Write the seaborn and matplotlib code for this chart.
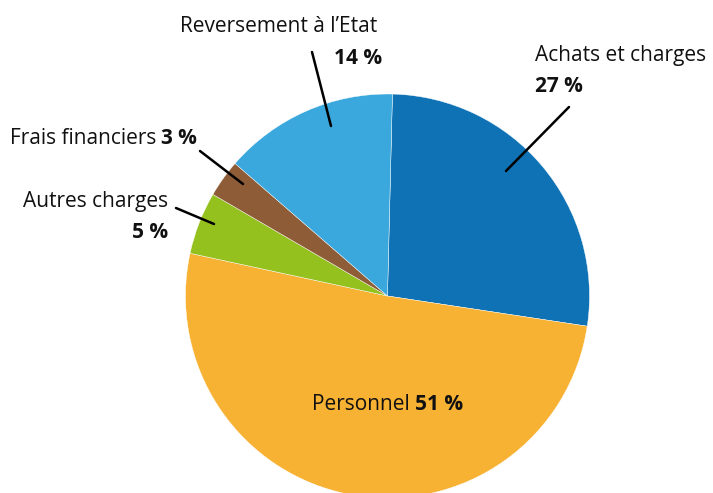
import matplotlib
matplotlib.use('Agg')
import matplotlib.pyplot as plt
import seaborn as sns

labels = ['Achats et charges', 'Personnel', 'Autres charges', 'Frais financiers', "Reversement à l’Etat"]
shares = [27, 51, 5, 3, 14]
colors = ['#0E72B5', '#F7B133', '#95C11F', '#8E5C36', '#3AA8DC']

sns.set_theme(style='white')
plt.rcParams['font.family'] = ['Open Sans', 'DejaVu Sans']

fig = plt.figure(figsize=(7.13, 4.93), dpi=100)
ax = fig.add_axes([0, 0, 1, 1])

# y axis is flipped, so counterclock=True draws clockwise on screen
ax.pie(shares, colors=colors, startangle=-88.6, counterclock=True,
       center=(387.5, 296), radius=202, frame=True,
       wedgeprops=dict(edgecolor='white', linewidth=0.3))
ax.set_xlim(0, 713)
ax.set_ylim(493, 0)
ax.axis('off')

fs = 15
reg = dict(fontsize=fs, color='#111111')
bold = dict(fontsize=fs, color='#111111', fontweight='bold')

fig.canvas.draw()
r = fig.canvas.get_renderer()


def inline(x, y, txt, num, gap=5):
    # regular text then bold number on the same line, starting at x
    t = ax.text(x, y, txt, ha='left', va='center', **reg)
    w = t.get_window_extent(r).width
    ax.text(x + w + gap, y, num, ha='left', va='center', **bold)


# Reversement
ax.text(279, 27, labels[4], ha='center', va='center', **reg)
ax.text(358, 59, f'{shares[4]} %', ha='center', va='center', **bold)
ax.plot([312, 331], [52, 126], color='black', lw=1.8)

# Achats
ax.text(535, 56, labels[0], ha='left', va='center', **reg)
ax.text(535, 86, f'{shares[0]} %', ha='left', va='center', **bold)
ax.plot([569, 506], [107, 171], color='black', lw=1.8)

# Frais financiers
inline(10, 139, labels[3], f'{shares[3]} %')
ax.plot([200, 243], [151, 184], color='black', lw=1.8)

# Autres charges
ax.text(168, 202, labels[2], ha='right', va='center', **reg)
ax.text(168, 232, f'{shares[2]} %', ha='right', va='center', **bold)
ax.plot([176, 214], [208, 224], color='black', lw=1.8)

# Personnel
inline(312, 405, labels[1], f'{shares[1]} %')

fig.savefig('out.png', dpi=100)
